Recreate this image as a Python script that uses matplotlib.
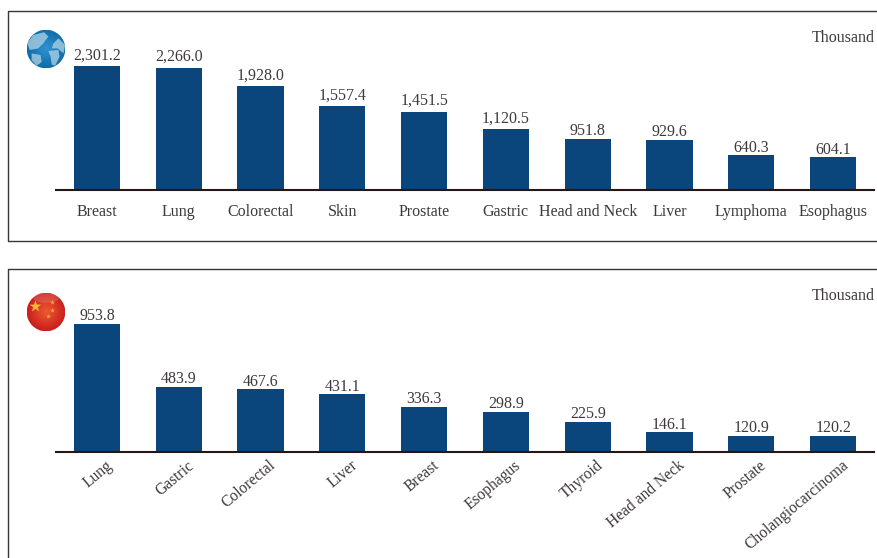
import numpy as np
import matplotlib
matplotlib.use('Agg')
import matplotlib.pyplot as plt
from matplotlib.patches import Circle, Polygon, Ellipse
from matplotlib.transforms import ScaledTranslation

W, H = 877, 558

world_names = ['Breast', 'Lung', 'Colorectal', 'Skin', 'Prostate', 'Gastric',
               'Head and Neck', 'Liver', 'Lymphoma', 'Esophagus']
world_values = [2301.2, 2266.0, 1928.0, 1557.4, 1451.5, 1120.5, 951.8, 929.6, 640.3, 604.1]
china_names = ['Lung', 'Gastric', 'Colorectal', 'Liver', 'Breast', 'Esophagus',
               'Thyroid', 'Head and Neck', 'Prostate', 'Cholangiocarcinoma']
china_values = [953.8, 483.9, 467.6, 431.1, 336.3, 298.9, 225.9, 146.1, 120.9, 120.2]

BAR = '#0a457c'
TXT = '#3e3a39'
plt.rcParams['font.family'] = ['Liberation Serif', 'DejaVu Serif']


def px_axes(fig, left, top, right, bottom):
    # pixel box, measured from the top of the picture
    return fig.add_axes([left / W, 1 - bottom / H, (right - left) / W, (bottom - top) / H])


def bar_panel(fig, names, values, base_y, ymax, rotate):
    ax = px_axes(fig, 56, base_y - 135, 874, base_y)
    ax.bar(range(len(values)), values, width=0.563, color=BAR, zorder=2)
    ax.set_xlim(-0.5, 9.5)
    ax.set_ylim(0, ymax)
    for s in ['top', 'left', 'right']:
        ax.spines[s].set_visible(False)
    ax.spines['bottom'].set_linewidth(1.5)
    ax.spines['bottom'].set_color('#231815')
    ax.set_yticks([])
    ax.set_xticks(range(len(names)))
    ax.tick_params(axis='x', length=0)
    if rotate:
        ax.set_xticklabels(names, rotation=40, ha='right', rotation_mode='anchor',
                           fontsize=11.2, color=TXT)
        ax.tick_params(axis='x', pad=4)
        # rotated labels end to the right of the bar centre
        shift = ScaledTranslation(8 / 100, 0, fig.dpi_scale_trans)
        for lab in ax.get_xticklabels():
            lab.set_transform(lab.get_transform() + shift)
    else:
        ax.set_xticklabels(names, fontsize=11.5, color=TXT)
        ax.tick_params(axis='x', pad=10)
    for i, v in enumerate(values):
        # labels with a comma sit a bit higher off the bar
        gap = 6.5 if v >= 1000 else 3.5
        ax.annotate(f'{v:,.1f}', (i, v), xytext=(0, gap), textcoords='offset pixels',
                    ha='center', va='baseline', fontsize=11.5, color=TXT, clip_on=False)
    return ax


def frame(fig, left, top, right, bottom, closed):
    xs = np.array([right, left, left, right]) / W
    ys = 1 - np.array([top, top, bottom, bottom]) / H
    if not closed:
        xs, ys = xs[:3], ys[:3]
    fig.add_artist(plt.Line2D(xs, ys, color='#3b3535', lw=1.0))


def ball(fig, cx, cy, r, inner, outer):
    ax = px_axes(fig, cx - r, cy - r, cx + r, cy + r)
    ax.set_xlim(-1, 1)
    ax.set_ylim(-1, 1)
    ax.axis('off')
    yy, xx = np.mgrid[-1:1:80j, -1:1:80j]
    d = np.clip(np.hypot(xx, yy), 0, 1)[..., None]
    img = np.array(matplotlib.colors.to_rgb(inner)) * (1 - d) + np.array(matplotlib.colors.to_rgb(outer)) * d
    im = ax.imshow(img, extent=(-1, 1, -1, 1), origin='lower', interpolation='bilinear')
    clip = Circle((0, 0), 0.99, transform=ax.transData)
    im.set_clip_path(clip)
    return ax, clip


def globe(fig):
    ax, clip = ball(fig, 46, 49, 19.5, '#2f93cf', '#0f6ca8')
    land = [
        [(-0.97, 0.29), (-0.66, 0.72), (-0.10, 0.86), (0.12, 0.64), (-0.14, 0.29), (-0.40, 0.03), (-0.83, -0.05)],
        [(-0.74, -0.22), (-0.28, -0.31), (-0.22, -0.66), (-0.48, -0.86), (-0.74, -0.57)],
        [(0.38, 0.29), (0.64, 0.55), (0.98, 0.21), (0.9, -0.22), (0.59, 0.03), (0.29, 0.03)],
        [(0.12, -0.10), (0.64, -0.05), (0.69, -0.40), (0.47, -0.86), (0.29, -0.79), (0.24, -0.40)],
    ]
    for pts in land:
        p = Polygon(pts, closed=True, fc='#bcd9e8', ec='none', alpha=0.7)
        ax.add_patch(p)
        p.set_clip_path(clip)


def flag(fig):
    ax, clip = ball(fig, 46, 312, 19.5, '#ee5a30', '#c81f1c')
    ax.scatter([-0.56], [0.29], marker='*', s=80, color='#f6b63a', zorder=3, linewidths=0)
    ax.scatter([0.31, 0.33, 0.09], [0.51, 0.09, -0.19], marker='*', s=14, color='#f0a53a', zorder=3, linewidths=0)
    # gloss at the top of the ball
    gloss = Ellipse((0, 0.72), 1.3, 0.5, fc='white', ec='none', alpha=0.14)
    ax.add_patch(gloss)
    gloss.set_clip_path(clip)


fig = plt.figure(figsize=(W / 100, H / 100), dpi=100)

frame(fig, 7.5, 11, 877, 241, True)
frame(fig, 7.5, 268.5, 877, 558, False)

bar_panel(fig, world_names, world_values, 190, 2500, False)
bar_panel(fig, china_names, china_values, 452, 1005, True)

fig.text(875 / W, 1 - 38 / H, 'Thousand', ha='right', va='center', fontsize=11.5, color=TXT)
fig.text(875 / W, 1 - 296 / H, 'Thousand', ha='right', va='center', fontsize=11.5, color=TXT)

globe(fig)
flag(fig)

fig.savefig('out.png', dpi=100)
